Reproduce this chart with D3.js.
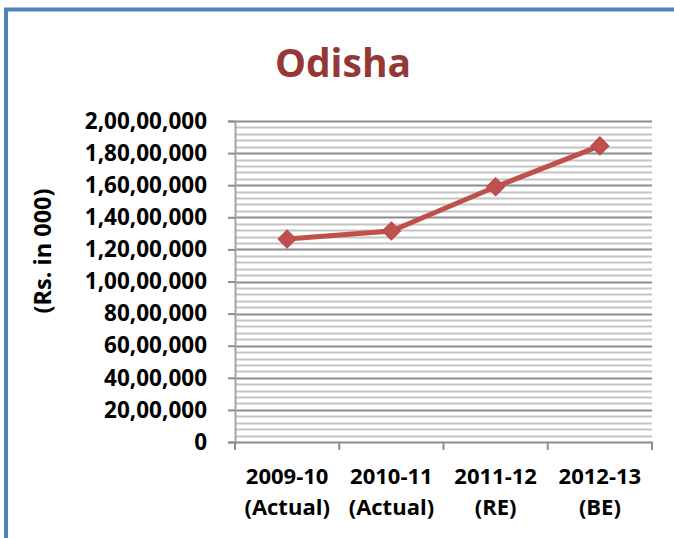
<!DOCTYPE html>
<html>
<head>
<meta charset="utf-8">
<script src="https://cdn.jsdelivr.net/npm/d3@7"></script>
<style>
  body { margin: 0; background: #fff; }
  text { font-family: "Open Sans", "Noto Sans", sans-serif; font-weight: bold; }
</style>
</head>
<body>
<div id="visualization"></div>
<script>
// data
let years = ["2009-10", "2010-11", "2011-12", "2012-13"]
let yearNotes = ["(Actual)", "(Actual)", "(RE)", "(BE)"]
let amounts = [12650000, 13150000, 15900000, 18450000]
let yTicks = [0, 2000000, 4000000, 6000000, 8000000, 10000000, 12000000, 14000000, 16000000, 18000000, 20000000]

var W = 674, H = 538
var margin = {top: 121, right: 22, bottom: 96, left: 235},
    width = W - margin.left - margin.right,
    height = H - margin.top - margin.bottom;

var svg = d3.select("#visualization")
  .append("svg")
    .attr("width", W)
    .attr("height", H)

// outer border of the chart frame (runs off the right and bottom)
svg.append("rect")
  .attr("x", 6).attr("y", 9.5)
  .attr("width", W + 20).attr("height", H + 20)
  .attr("fill", "white")
  .attr("stroke", "#4F81BD")
  .attr("stroke-width", 4)

svg.append("text")
  .attr("x", 343).attr("y", 77)
  .attr("text-anchor", "middle")
  .style("font-size", "39px")
  .attr("fill", "#953735")
  .text("Odisha")

var g = svg.append("g")
  .attr("transform", `translate(${margin.left}, ${margin.top})`)

var x = d3.scaleBand()
  .domain(years)
  .range([0, width])
  .padding(0)

var y = d3.scaleLinear()
  .domain([0, 20000000])
  .range([height, 0])

// Indian digit grouping: 2,00,00,000
var indian = d3.formatLocale({decimal: ".", thousands: ",", grouping: [3, 2, 2, 2, 2], currency: ["", ""]}).format(",")

// minor gridlines
g.selectAll(".minor")
  .data(d3.range(0, 20000001, 400000).filter(v => v % 2000000 != 0))
  .join("line")
  .attr("x1", 0).attr("x2", width)
  .attr("y1", d => Math.round(y(d)) + 0.5)
  .attr("y2", d => Math.round(y(d)) + 0.5)
  .attr("stroke", "#C4C4C4")
  .attr("stroke-width", 2)

// major gridlines
g.selectAll(".major")
  .data(yTicks.slice(1))
  .join("line")
  .attr("x1", 0).attr("x2", width)
  .attr("y1", d => Math.round(y(d)) + 0.5)
  .attr("y2", d => Math.round(y(d)) + 0.5)
  .attr("stroke", "#8C8C8C")
  .attr("stroke-width", 2)

// y axis
let yAxis = g.append("g")
  .call(d3.axisLeft(y).tickValues(yTicks).tickFormat(indian).tickSize(7).tickPadding(21))
yAxis.selectAll("line").attr("stroke", "#8C8C8C").attr("stroke-width", 2)
yAxis.select(".domain").attr("stroke", "#A6A6A6").attr("stroke-width", 2)
yAxis.selectAll("text")
  .style("font-size", "22.5px")
  .style("font-family", "'Open Sans', sans-serif")
  .style("font-weight", "bold")
  .attr("fill", "#000")

// x axis
let xAxis = g.append("g")
  .attr("transform", `translate(0, ${height})`)
  .call(d3.axisBottom(x).tickSize(0).tickFormat(""))
xAxis.select(".domain").attr("stroke", "#8C8C8C").attr("stroke-width", 2)

g.selectAll(".xtick")
  .data(d3.range(years.length + 1))
  .join("line")
  .attr("x1", i => i < years.length ? x(years[i]) : width)
  .attr("x2", i => i < years.length ? x(years[i]) : width)
  .attr("y1", height).attr("y2", height + 8)
  .attr("stroke", "#8C8C8C")
  .attr("stroke-width", 2)

let xl = g.selectAll(".xlabel")
  .data(years)
  .join("text")
  .attr("text-anchor", "middle")
  .style("font-size", "22px")
  .attr("transform", d => `translate(${x(d) + x.bandwidth() / 2}, ${height})`)
xl.append("tspan").attr("x", 0).attr("y", 42).text(d => d)
xl.append("tspan").attr("x", 0).attr("y", 73).text((d, i) => yearNotes[i])

// y axis title
svg.append("text")
  .attr("transform", "translate(51, 251) rotate(-90)")
  .attr("text-anchor", "middle")
  .style("font-size", "23.5px")
  .text("(Rs. in 000)")

// series line
var line = d3.line()
  .x((d, i) => x(years[i]) + x.bandwidth() / 2)
  .y(d => y(d))

g.append("path")
  .datum(amounts)
  .attr("d", line)
  .attr("fill", "none")
  .attr("stroke", "#C0504D")
  .attr("stroke-width", 5)

g.selectAll(".marker")
  .data(amounts)
  .join("path")
  .attr("d", d3.symbol().type(d3.symbolSquare).size(165))
  .attr("transform", (d, i) => `translate(${x(years[i]) + x.bandwidth() / 2}, ${y(d)}) rotate(45)`)
  .attr("fill", "#C0504D")
  .attr("stroke", "#B9474A")
  .attr("stroke-width", 1)
</script>
</body>
</html>
